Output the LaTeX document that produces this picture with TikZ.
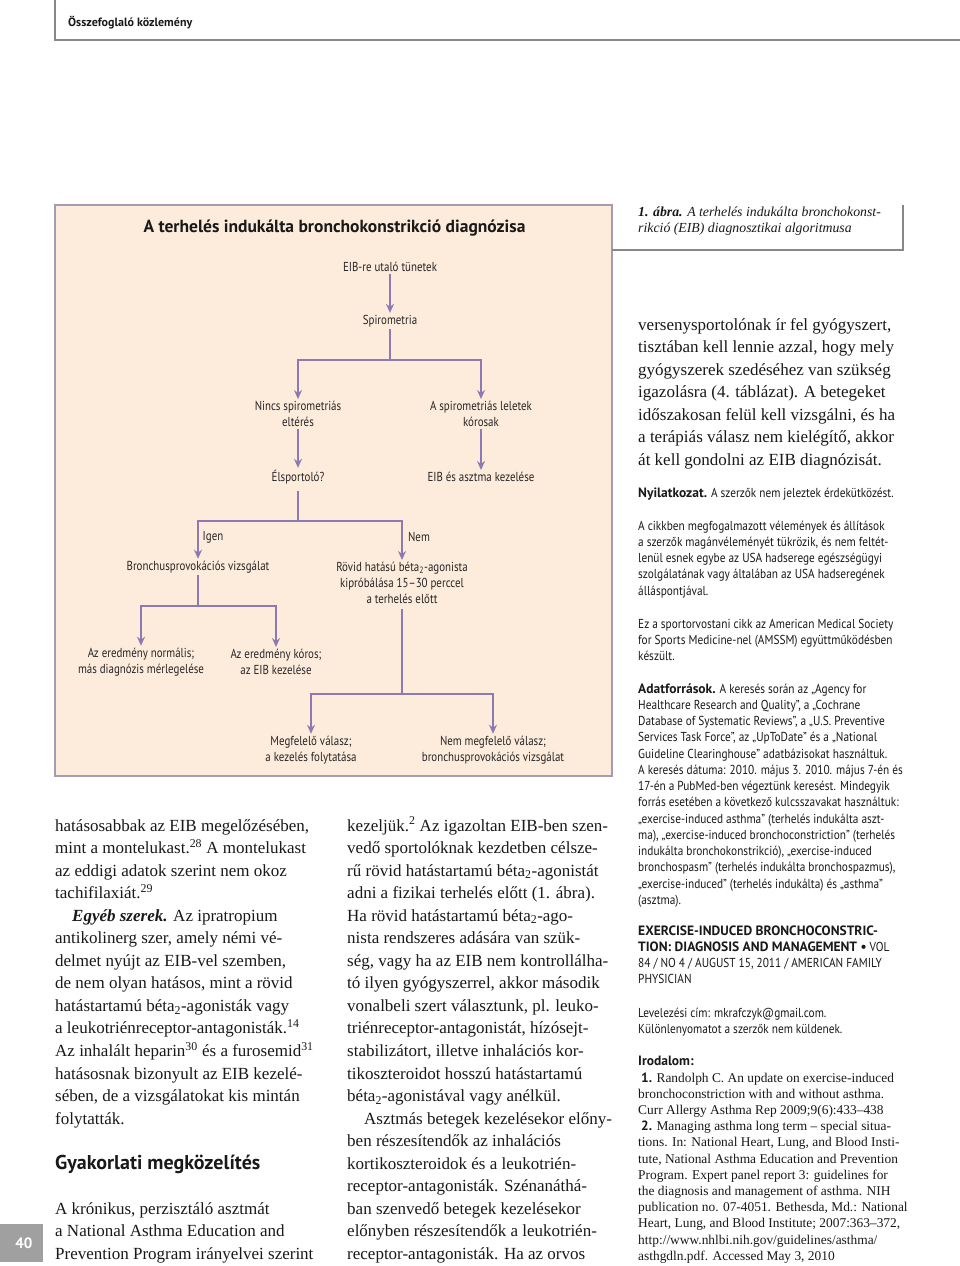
\documentclass[tikz,border=0pt]{standalone}
\usepackage{fontspec}
\setmainfont{Liberation Serif}
\newfontfamily\cond[FakeStretch=0.84]{PT Sans}
\newfontfamily\sansr[FakeStretch=0.87]{PT Sans}
\newfontfamily\ptb{PT Sans}
\usetikzlibrary{arrows.meta}
\definecolor{peach}{RGB}{253,235,219}
\definecolor{boxline}{RGB}{165,155,178}
\definecolor{flow}{RGB}{142,122,178}
\definecolor{rulegray}{RGB}{135,135,135}
\definecolor{pagegray}{RGB}{160,160,160}
\newcommand{\serifblk}[1]{\parbox[t]{320pt}{\raggedright\fontsize{17}{22.55}\selectfont #1}}
\newcommand{\sansblk}[1]{\parbox[t]{320pt}{\raggedright\sansr\fontsize{13}{16.25}\selectfont #1}}
\newcommand{\refblk}[1]{\parbox[t]{320pt}{\raggedright\fontsize{13.4}{16.2}\selectfont #1}}
\newcommand{\bs}[1]{{\ptb\bfseries\fontsize{13.5}{16.25}\selectfont #1}}
\tikzset{
  fl/.style={font=\cond\fontsize{13}{16}\selectfont, align=center, inner sep=2pt, text=black!85},
  conn/.style={draw=flow, line width=2pt},
  arr/.style={conn, -{Stealth[length=9pt,width=8pt]}},
  txt/.style={anchor=base west, inner sep=0pt, text=black!90},
}
\begin{document}
\begin{tikzpicture}[x=1pt,y=-1pt]
\useasboundingbox (0,0) rectangle (960,1266);
\fill[white] (0,0) rectangle (960,1266);
% header
\draw[rulegray, line width=1.6pt] (55,0) -- (55,40) -- (960,40);
\node[txt] (hdr) at (68,27) {\ptb\bfseries\fontsize{12}{15}\selectfont Összefoglaló közlemény};
% flowchart box
\draw[boxline, fill=peach, line width=1.6pt] (55,205) rectangle (612,776);
% caption box
\draw[rulegray, line width=1.4pt] (612,250) -- (903,250) -- (903,205);
\node[txt] (cap) at (638,216) {\parbox[t]{280pt}{\raggedright\itshape\fontsize{13.8}{16}\selectfont \textbf{1. ábra.} A terhelés indukálta bronchokonst-\\rikció (EIB) diagnosztikai algoritmusa}};
% title
\node[font=\ptb\bfseries\fontsize{17.5}{20}\selectfont, inner sep=0pt, text=black!90] (title) at (334.5,228) {A terhelés indukálta bronchokonstrikció diagnózisa};
% flow nodes
\node[fl] (sym) at (390,267) {EIB-re utaló tünetek};
\node[fl] (spiro) at (390,321) {Spirometria};
\node[fl] (nincs) at (298,414) {Nincs spirometriás\\eltérés};
\node[fl] (koros) at (481,414) {A spirometriás leletek\\kórosak};
\node[fl] (elsp) at (298,477) {Élsportoló?};
\node[fl] (eibk) at (481,477) {EIB és asztma kezelése};
\node[fl] (bron) at (198,567) {Bronchusprovokációs vizsgálat};
\node[fl] (rovid) at (402,583) {Rövid hatású béta\textsubscript{2}-agonista\\kipróbálása 15–30 perccel\\a terhelés előtt};
\node[fl] (igen) at (213,537) {Igen};
\node[fl] (nem) at (419,537) {Nem};
\node[fl] (norm) at (141,662) {Az eredmény normális;\\más diagnózis mérlegelése};
\node[fl] (korose) at (276,662) {Az eredmény kóros;\\az EIB kezelése};
\node[fl] (megf) at (311,750) {Megfelelő válasz;\\a kezelés folytatása};
\node[fl] (nemm) at (493,750) {Nem megfelelő válasz;\\bronchusprovokációs vizsgálat};
\coordinate (j1) at (390,360);
\coordinate (j2) at (298,521);
\coordinate (j3) at (198,606);
\coordinate (j4) at (402,694);
\draw[arr] (sym) -- (spiro);
\draw[conn] (spiro) -- (j1);
\draw[arr] (j1) -| (nincs);
\draw[arr] (j1) -| (koros);
\draw[arr] (nincs) -- (elsp);
\draw[arr] (koros) -- (eibk);
\draw[conn, shorten <=5pt] (elsp) -- (j2);
\draw[arr] (j2) -| (bron);
\draw[arr] (j2) -| (rovid);
\draw[conn] (bron) -- (j3);
\draw[arr] (j3) -| (norm);
\draw[arr] (j3) -| (korose);
\draw[conn, shorten <=3pt] (rovid) -- (j4);
\draw[arr] (j4) -| (megf);
\draw[arr] (j4) -| (nemm);
% right column
\node[txt] (rc1) at (638,330) {\serifblk{versenysportolónak ír fel gyógyszert,\\tisztában kell lennie azzal, hogy mely\\gyógyszerek szedéséhez van szükség\\igazolásra (4. táblázat). A betegeket\\időszakosan felül kell vizsgálni, és ha\\a terápiás válasz nem kielégítő, akkor\\át kell gondolni az EIB diagnózisát.}};
\node[txt] (nyil) at (638,497) {\sansblk{\bs{Nyilatkozat.} A szerzők nem jeleztek érdekütközést.}};
\node[txt] (vel) at (638,530) {\sansblk{A cikkben megfogalmazott vélemények és állítások\\a szerzők magánvéleményét tükrözik, és nem feltét-\\lenül esnek egybe az USA hadserege egészségügyi\\szolgálatának vagy általában az USA hadseregének\\álláspontjával.}};
\node[txt] (amssm) at (638,628) {\sansblk{Ez a sportorvostani cikk az American Medical Society\\for Sports Medicine-nel (AMSSM) együttműködésben\\készült.}};
\node[txt] (adat) at (638,693) {\sansblk{\bs{Adatforrások.} A keresés során az „Agency for\\Healthcare Research and Quality”, a „Cochrane\\Database of Systematic Reviews”, a „U.S. Preventive\\Services Task Force”, az „UpToDate” és a „National\\Guideline Clearinghouse” adatbázisokat használtuk.\\A keresés dátuma: 2010. május 3. 2010. május 7-én és\\17-én a PubMed-ben végeztünk keresést. Mindegyik\\forrás esetében a következő kulcsszavakat használtuk:\\„exercise-induced asthma” (terhelés indukálta aszt-\\ma), „exercise-induced bronchoconstriction” (terhelés\\indukálta bronchokonstrikció), „exercise-induced\\bronchospasm” (terhelés indukálta bronchospazmus),\\„exercise-induced” (terhelés indukálta) és „asthma”\\(asztma).}};
\node[txt] (afp) at (638,935) {\sansblk{\bs{EXERCISE-INDUCED BRONCHOCONSTRIC-}\\\bs{TION: DIAGNOSIS AND MANAGEMENT •} VOL\\84 / NO 4 / AUGUST 15, 2011 / AMERICAN FAMILY\\PHYSICIAN}};
\node[txt] (lev) at (638,1017) {\sansblk{Levelezési cím: mkrafczyk@gmail.com.\\Különlenyomatot a szerzők nem küldenek.}};
\node[txt] (irod) at (638,1065) {\ptb\bfseries\fontsize{13.5}{16}\selectfont Irodalom:};
\node[txt] (refs) at (638,1082) {\refblk{\hspace*{3pt}{\ptb\bfseries 1.} Randolph C. An update on exercise-induced\\bronchoconstriction with and without asthma.\\Curr Allergy Asthma Rep 2009;9(6):433–438\\\hspace*{3pt}{\ptb\bfseries 2.} Managing asthma long term – special situa-\\tions. In: National Heart, Lung, and Blood Insti-\\tute, National Asthma Education and Prevention\\Program. Expert panel report 3: guidelines for\\the diagnosis and management of asthma. NIH\\publication no. 07-4051. Bethesda, Md.: National\\Heart, Lung, and Blood Institute; 2007:363–372,\\http://www.nhlbi.nih.gov/guidelines/asthma/\\asthgdln.pdf. Accessed May 3, 2010}};
% left column
\node[txt] (lc1) at (55,831) {\serifblk{hatásosabbak az EIB megelőzésében,\\mint a montelukast.\textsuperscript{28} A montelukast\\az eddigi adatok szerint nem okoz\\tachifilaxiát.\textsuperscript{29}\\\hspace*{17pt}\textbf{\textit{Egyéb szerek.}} Az ipratropium\\antikolinerg szer, amely némi vé-\\delmet nyújt az EIB-vel szemben,\\de nem olyan hatásos, mint a rövid\\hatástartamú béta\textsubscript{2}-agonisták vagy\\a leukotriénreceptor-antagonisták.\textsuperscript{14}\\Az inhalált heparin\textsuperscript{30} és a furosemid\textsuperscript{31}\\hatásosnak bizonyult az EIB kezelé-\\sében, de a vizsgálatokat kis mintán\\folytatták.}};
\node[txt] (gyak) at (55,1169) {\ptb\bfseries\fontsize{20}{22}\selectfont Gyakorlati megközelítés};
\node[txt] (lc2) at (55,1214) {\serifblk{A krónikus, perzisztáló asztmát\\a National Asthma Education and\\Prevention Program irányelvei szerint}};
% middle column
\node[txt] (mc) at (347,831) {\serifblk{kezeljük.\textsuperscript{2} Az igazoltan EIB-ben szen-\\vedő sportolóknak kezdetben célsze-\\rű rövid hatástartamú béta\textsubscript{2}-agonistát\\adni a fizikai terhelés előtt (1. ábra).\\Ha rövid hatástartamú béta\textsubscript{2}-ago-\\nista rendszeres adására van szük-\\ség, vagy ha az EIB nem kontrollálha-\\tó ilyen gyógyszerrel, akkor második\\vonalbeli szert választunk, pl. leuko-\\triénreceptor-antagonistát, hízósejt-\\stabilizátort, illetve inhalációs kor-\\tikoszteroidot hosszú hatástartamú\\béta\textsubscript{2}-agonistával vagy anélkül.\\\hspace*{17pt}Asztmás betegek kezelésekor előny-\\ben részesítendők az inhalációs\\kortikoszteroidok és a leukotrién-\\receptor-antagonisták. Szénanáthá-\\ban szenvedő betegek kezelésekor\\előnyben részesítendők a leukotrién-\\receptor-antagonisták. Ha az orvos}};
% page number
\fill[pagegray] (0,1224) rectangle (43,1262);
\node[text=white, font=\ptb\bfseries\fontsize{15}{17}\selectfont, inner sep=0pt] (pnum) at (24,1243) {40};
\end{tikzpicture}
\end{document}
